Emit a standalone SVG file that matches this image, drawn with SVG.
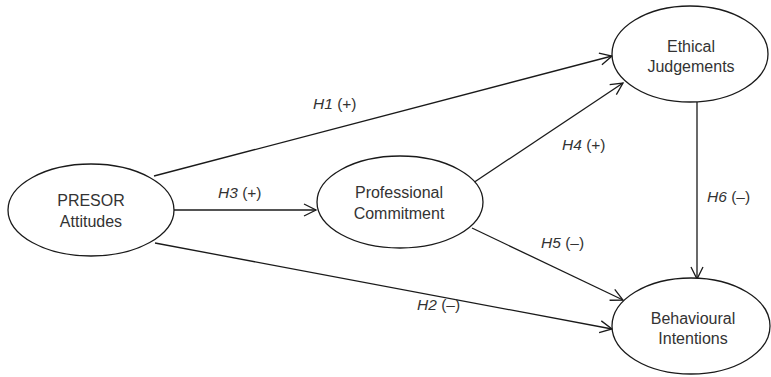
<svg xmlns="http://www.w3.org/2000/svg" width="771" height="377" viewBox="0 0 771 377">
<style>
.node ellipse{fill:#fff;stroke:#1a1a1a;stroke-width:1.3}
.node text{font-family:"Liberation Sans",Arial,sans-serif;font-size:16px;fill:#333;text-anchor:middle}
.lbl{font-family:"Liberation Sans",Arial,sans-serif;font-size:15.5px;fill:#333}
.lbl tspan.i{font-style:italic}
#connectors line{stroke:#1a1a1a;stroke-width:1.3;fill:none;marker-end:url(#arr)}
</style>
<defs>
<marker id="arr" markerUnits="userSpaceOnUse" markerWidth="16" markerHeight="14" viewBox="0 0 16 14" refX="14" refY="7" orient="auto">
<path d="M2,1 L14,7 L2,13" fill="none" stroke="#1a1a1a" stroke-width="1.3"/>
</marker>
</defs>
<rect width="771" height="377" fill="#fff"/>
<g id="connectors">
<line x1="154" y1="176" x2="612" y2="56"/>
<line x1="174" y1="210" x2="316" y2="210"/>
<line x1="155" y1="243" x2="612" y2="329"/>
<line x1="473" y1="183" x2="623" y2="83"/>
<line x1="472" y1="228" x2="623" y2="300"/>
<line x1="697" y1="102" x2="697" y2="279"/>
</g>
<g id="labels">
<text class="lbl" x="313" y="109"><tspan class="i">H1</tspan> (+)</text>
<text class="lbl" x="218" y="198"><tspan class="i">H3</tspan> (+)</text>
<text class="lbl" x="417" y="310"><tspan class="i">H2</tspan> (–)</text>
<text class="lbl" x="562" y="150"><tspan class="i">H4</tspan> (+)</text>
<text class="lbl" x="541" y="248"><tspan class="i">H5</tspan> (–)</text>
<text class="lbl" x="707" y="202"><tspan class="i">H6</tspan> (–)</text>
</g>
<g id="presor" class="node">
<ellipse cx="91" cy="210" rx="83" ry="46"/>
<text x="91" y="206">PRESOR</text>
<text x="91" y="227">Attitudes</text>
</g>
<g id="commitment" class="node">
<ellipse cx="400" cy="202" rx="83" ry="46"/>
<text x="399" y="198">Professional</text>
<text x="399" y="219">Commitment</text>
</g>
<g id="ethical" class="node">
<ellipse cx="690" cy="54" rx="78" ry="48"/>
<text x="691" y="52">Ethical</text>
<text x="691" y="72">Judgements</text>
</g>
<g id="behavioural" class="node">
<ellipse cx="691" cy="326" rx="79" ry="48"/>
<text x="693" y="324">Behavioural</text>
<text x="693" y="344">Intentions</text>
</g>
</svg>
